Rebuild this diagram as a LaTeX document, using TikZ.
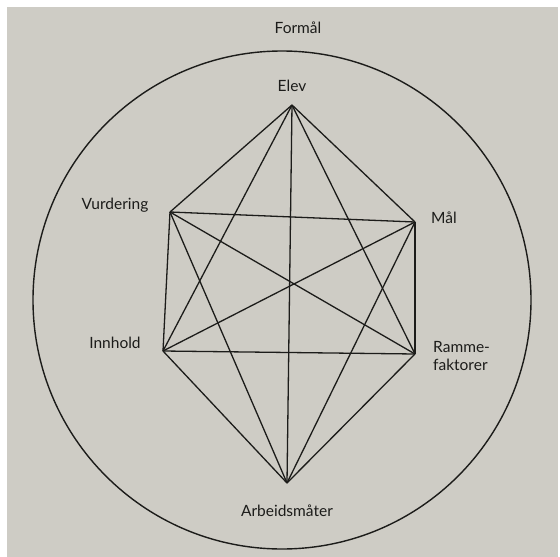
\documentclass[tikz,border=0pt]{standalone}
\usepackage{fontspec}
\setmainfont{Lato}
\usepackage{xcolor}
\usepackage{tikz}
\usetikzlibrary{positioning}

\definecolor{paper}{RGB}{206,204,197}
\definecolor{ink}{RGB}{28,28,26}

\tikzset{
    point/.style={inner sep=0pt, minimum size=0pt},
    tag/.style={inner sep=1pt, text=ink, font=\fontsize{15.5}{18.5}\selectfont, align=left},
    edge/.style={draw=ink, line width=1.3pt}
}

\begin{document}
\begin{tikzpicture}[x=1pt, y=-1pt]
        \useasboundingbox (0,0) rectangle (560,557);
        \fill[white] (0,0) rectangle (560,557);
        \fill[paper] (7,7) rectangle (558,557);

        % the surrounding circle
        \draw[ink, line width=1.4pt] (282,300) circle[radius=249pt];
        \node[tag] (formal) at (298,28) {Formål};

        % the six corners
        \coordinate (elev) at (292,105);
        \coordinate (maal) at (415,222);
        \coordinate (ramme) at (415,354);
        \coordinate (arb) at (287,483);
        \coordinate (innh) at (163,351);
        \coordinate (vurd) at (170,212);

        \node[tag] (elevtxt) at (292,86) {Elev};
        \node[tag, anchor=west] (maaltxt) at (430,218) {Mål};
        \node[tag, anchor=west, align=left] (rammetxt) at (432,356) {Ramme-\\faktorer};
        \node[tag] (arbtxt) at (287,511) {Arbeidsmåter};
        \node[tag] (innhtxt) at (115,343) {Innhold};
        \node[tag] (vurdtxt) at (115,205) {Vurdering};

        % every corner joined to every other
        \foreach \a/\rest in {elev/{maal,ramme,arb,innh,vurd}, maal/{ramme,arb,innh,vurd}, ramme/{arb,innh,vurd}, arb/{innh,vurd}, innh/{vurd}}
        \foreach \b in \rest
        \draw[edge] (\a) -- (\b);

    \end{tikzpicture}
\end{document}
